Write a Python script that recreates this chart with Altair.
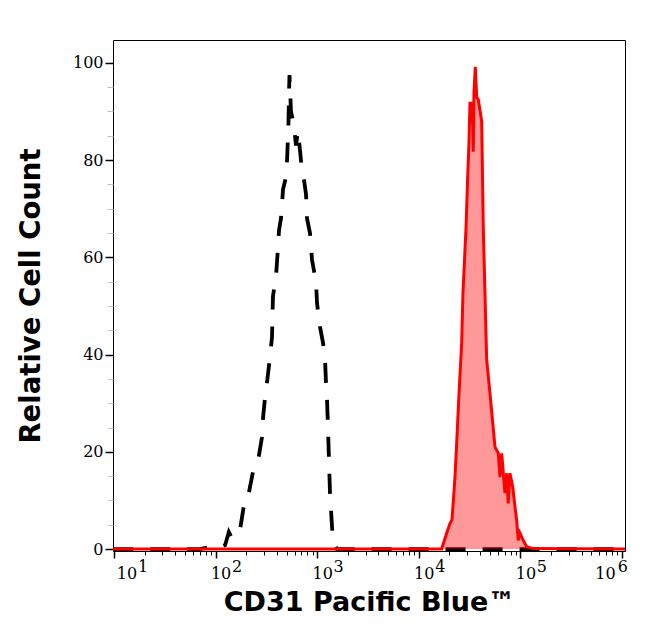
import altair as alt
import pandas as pd

# Control (unstained) histogram - black dashed
ctrl_x = [9.8, 70, 88, 106, 124, 135, 145, 160, 174, 190, 204, 218, 234, 261, 286, 293, 306,
          328, 343, 359, 367, 393, 402, 411, 421, 440, 461, 493, 505, 516, 522, 528, 534,
          552, 565, 591, 618, 647, 677, 708, 741, 776, 794, 849, 889, 973, 996, 1066, 1141,
          1194, 1222, 1249, 1277, 1306, 1337, 1400, 1432, 1567, 1071000]
ctrl_y = [0, 0, 0.4, 0.2, 0.8, 3.5, 2.2, 3.0, 4.0, 9.0, 9.5, 12.8, 16, 18, 23, 27, 31,
          36, 39.5, 43.6, 52, 56, 59, 62, 65.6, 68, 74, 76.5, 80, 85, 88, 94, 97.5,
          90, 89, 87, 83, 86, 82, 78, 76, 73, 68, 65, 59.5, 55, 50.6, 45.7, 42.4,
          39, 34, 30.7, 25, 18.3, 11.5, 4.5, 1.4, 0, 0]

# CD31 Pacific Blue stained histogram - red filled
stain_x = [9.8, 16790, 18840, 20290, 21240, 22720, 23620, 24890, 26440, 27230, 29170, 30290,
           31190, 31920, 33190, 33960, 34390, 34930, 35990, 37150, 38540, 41600, 43150,
           46580, 50200, 56250, 60650, 62990, 65480, 70530, 73330, 76030, 79010, 84000,
           88490, 91900, 95290, 99000, 106700, 115300, 133000, 1071000]
stain_y = [0, 0, 3.3, 5.3, 6, 14.8, 21.8, 32, 42.4, 52.7, 66, 76.5,
           83.5, 91.7, 91.7, 87, 81.7, 93.8, 99.2, 93, 92.4, 88, 66,
           39, 32, 21, 19.7, 14.8, 19.7, 11.5, 15.6, 9.4, 15.6, 12.8,
           8.7, 6, 1.8, 3.3, 1.8, 0.5, 0.1, 0]

decades = [10, 100, 1000, 10000, 100000, 1000000]
minor_x = [m * d for d in [10, 100, 1000, 10000, 100000] for m in range(2, 10)]
y_major = [0, 20, 40, 60, 80, 100]
y_minor = [5, 10, 15, 25, 30, 35, 45, 50, 55, 65, 70, 75, 85, 90, 95]

x_domain = [9.77, 1071500]
y_domain = [-0.4, 104.7]

ctrl = pd.DataFrame({"x": ctrl_x, "y": ctrl_y})
stain = pd.DataFrame({"x": stain_x, "y": stain_y})

xscale = alt.Scale(type="log", domain=x_domain, nice=False, zero=False)
yscale = alt.Scale(domain=y_domain, nice=False, zero=False)

serif = "DejaVu Serif"
sans = "DejaVu Sans"
lfs = 16

x_minor_axis = alt.Axis(values=minor_x, labels=False, tickSize=4, tickColor="black",
                        tickWidth=1, domain=False, grid=False, title=None, orient="bottom")
y_minor_axis = alt.Axis(values=y_minor, labels=False, tickSize=6, tickColor="#c4c4c4",
                        tickWidth=1, domain=False, grid=False, title=None, orient="left")

x_exp_axis = alt.Axis(values=decades, labelExpr="'' + round(log(datum.value) / LN10)",
                      tickSize=7, tickOpacity=0, labelPadding=0, labelFont=serif,
                      labelFontSize=lfs, labelColor="black", labelFlush=False,
                      labelOverlap=False, labelAlign="center",
                      labelOffset={"condition": [{"test": "datum.value < 50", "value": 28.5},
                                                 {"test": "datum.value > 500000", "value": 0.5}],
                                   "value": 21},
                      domain=False, grid=False, title=None, orient="bottom")

x_main_axis = alt.Axis(values=decades, labelExpr="'10'", tickSize=7, tickColor="black",
                       tickWidth=1.5, labelPadding=7, labelFont=serif, labelFontSize=lfs,
                       labelColor="black", labelFlush=False, labelOverlap=False,
                       labelAlign="center",
                       labelOffset={"condition": [{"test": "datum.value < 50", "value": 12.5},
                                                  {"test": "datum.value > 500000", "value": -17}],
                                    "value": 5},
                       domain=False, grid=False, orient="bottom",
                       title="CD31 Pacific Blue™", titleFont=sans, titleFontSize=27,
                       titleFontWeight="bold", titleColor="black", titlePadding=8)

y_main_axis = alt.Axis(values=y_major, tickSize=8, tickColor="black", tickWidth=1.5,
                       labelPadding=2, labelFont=serif, labelFontSize=lfs,
                       labelColor="black", labelFlush=False, labelOverlap=False,
                       domain=False, grid=False, orient="left",
                       title="Relative Cell Count", titleFont=sans, titleFontSize=27.5,
                       titleFontWeight="bold", titleColor="black", titlePadding=27)

ctrl_line = alt.Chart(ctrl).mark_line(
    color="black", strokeWidth=3.8, strokeDash=[20, 17], strokeCap="butt", clip=True
).encode(
    x=alt.X("x:Q", scale=xscale, axis=x_minor_axis),
    y=alt.Y("y:Q", scale=yscale, axis=y_minor_axis),
)

stain_area = alt.Chart(stain).mark_area(
    color="#ff0000", opacity=0.4, clip=True
).encode(
    x=alt.X("x:Q", scale=xscale, axis=x_exp_axis),
    y=alt.Y("y:Q", scale=yscale, axis=None),
)

stain_line = alt.Chart(stain).mark_line(
    color="#ff0000", strokeWidth=3, clip=True
).encode(
    x=alt.X("x:Q", scale=xscale, axis=x_main_axis),
    y=alt.Y("y:Q", scale=yscale, axis=y_main_axis),
)

chart = alt.layer(ctrl_line, stain_area, stain_line).resolve_axis(
    x="independent", y="independent"
).properties(
    width=512, height=511,
    autosize=alt.AutoSizeParams(type="none"),
    padding={"left": 105, "top": 32, "right": 13, "bottom": 80},
    background="white",
).configure_view(
    stroke="black", strokeWidth=1
)

chart.save("out.html", embed_options={"renderer": "svg", "actions": False})
